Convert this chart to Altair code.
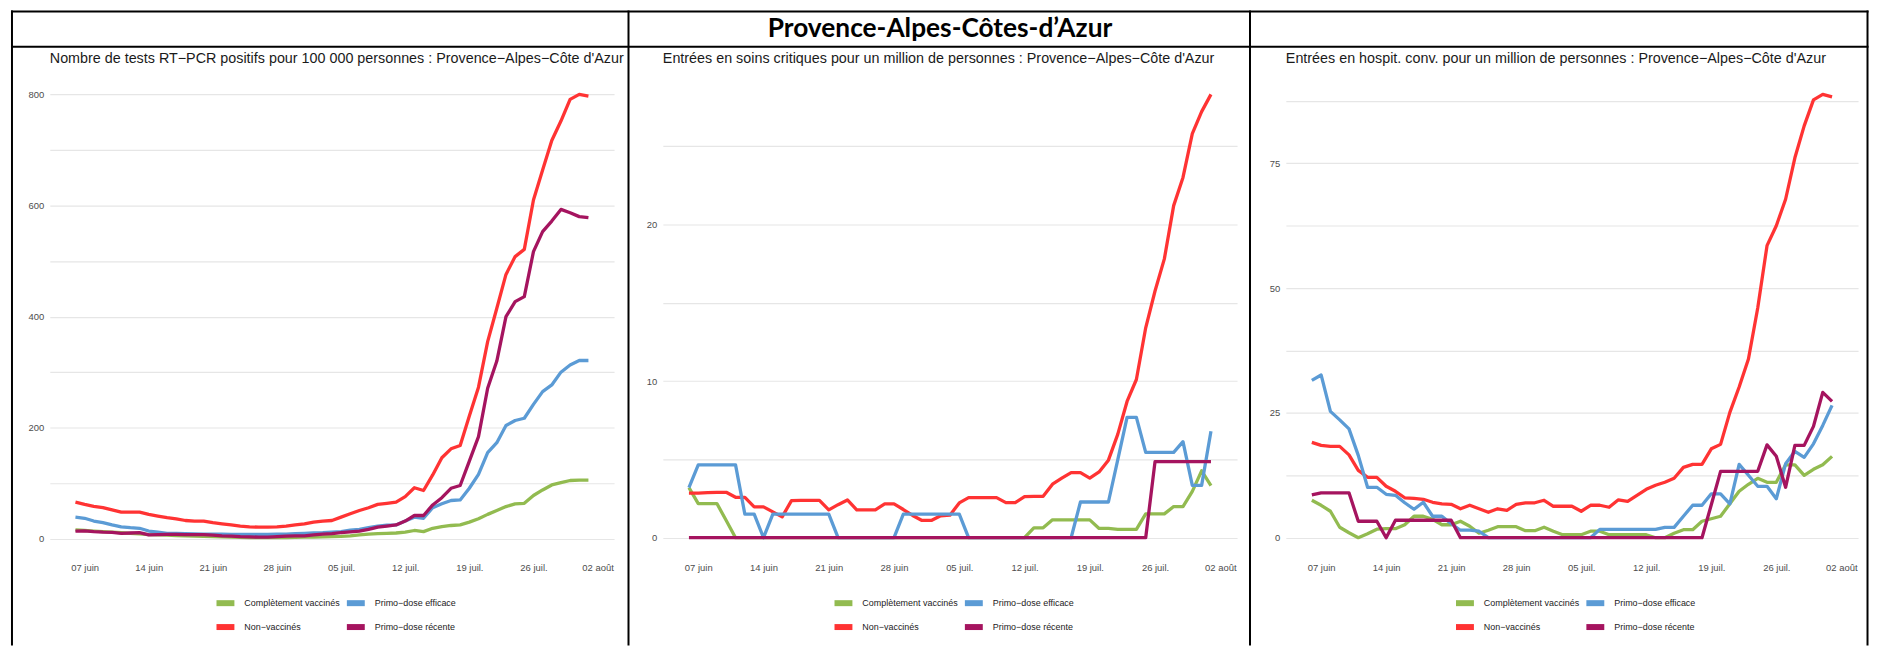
import json
import altair as alt
import pandas as pd

# ---------------- data ----------------
days = list(range(57))  # 06 juin .. 01 août
tick_days = [1, 8, 15, 22, 29, 36, 43, 50, 57]
tick_labels = ["07 juin", "14 juin", "21 juin", "28 juin", "05 juil.",
               "12 juil.", "19 juil.", "26 juil.", "02 août"]

main_title = "Provence-Alpes-Côtes-d’Azur"
panel_titles = [
    "Nombre de tests RT−PCR positifs pour 100 000 personnes : Provence−Alpes−Côte d'Azur",
    "Entrées en soins critiques pour un million de personnes : Provence−Alpes−Côte d'Azur",
    "Entrées en hospit. conv. pour un million de personnes : Provence−Alpes−Côte d'Azur",
]

# drawing order (last on top)
series_names = ["Complètement vaccinés", "Non−vaccinés", "Primo−dose efficace", "Primo−dose récente"]
# legend order (filled row by row)
legend_order = ["Complètement vaccinés", "Primo−dose efficace", "Non−vaccinés", "Primo−dose récente"]
legend_colors = ["#92BB50", "#5B9BD5", "#FF3333", "#A5145F"]

# Panel 1 : tests positifs / 100 000
tests_comp = [16, 15, 14, 13, 12, 11, 10, 9, 7.5, 7, 6.5, 6, 5.5, 5, 4.5, 4, 3.5, 3, 2.5, 2,
              2, 2, 2, 2.3, 2.6, 3, 3.3, 3.6, 4, 4.5, 5.5, 7, 8.5, 9.5, 10, 10.5, 12, 15, 13, 19,
              22, 24, 25, 30, 36, 44, 51, 58, 63, 64, 78, 88, 97, 101, 105, 105.5, 105.5]
tests_non = [66, 62, 58.5, 56, 52, 48, 48, 48, 44, 41, 38, 36, 33, 32, 32, 29, 27, 25, 23, 21.5,
             21, 21, 21.5, 23, 25, 27, 30, 32, 33, 39, 45, 51, 56, 62, 64, 66, 76, 92, 87, 115,
             146, 162, 168, 221, 273, 355, 415, 476, 508, 521, 610, 664, 717, 752, 791, 800, 797]
tests_eff = [39, 37, 32, 29, 25, 21.5, 20, 19, 14, 12, 10, 10, 9.5, 9, 8.5, 8.5, 8.5, 8, 8, 8,
             8, 8, 8.5, 8.5, 9.5, 10, 10.5, 11, 12, 13, 15.5, 17, 20, 23, 24.5, 25, 32, 39, 37, 56,
             63, 69, 70, 91, 116, 155, 173, 204, 213, 217, 242, 265, 277, 300, 313, 321, 321]
tests_rec = [14, 14.5, 13, 12, 11.5, 10, 10.5, 11, 7, 7.5, 8, 8, 7.5, 7.5, 7.5, 6.5, 5.5, 5, 4, 3.5,
             3, 3, 4, 5, 5.5, 5.5, 7, 8.5, 9.5, 11, 12.5, 14, 17, 21, 23, 25, 32, 42, 42, 61,
             74, 91, 96, 140, 184, 271, 320, 400, 427, 436, 517, 553, 572, 593, 587, 580, 578]

# Panel 2 : soins critiques / million
sc_comp = [3.2, 2.18, 2.18, 2.18, 1.1, 0, 0, 0, 0, 0, 0, 0, 0, 0, 0, 0, 0, 0, 0, 0,
           0, 0, 0, 0, 0, 0, 0, 0, 0, 0, 0, 0, 0, 0, 0, 0, 0, 0.63, 0.63, 1.14,
           1.14, 1.14, 1.14, 1.14, 0.59, 0.59, 0.53, 0.53, 0.53, 1.52, 1.52, 1.52, 1.99, 1.99, 2.96, 4.27, 3.32]
sc_non = [2.85, 2.85, 2.88, 2.9, 2.9, 2.58, 2.58, 1.97, 1.97, 1.65, 1.33, 2.37, 2.39, 2.39, 2.39, 1.78,
          2.11, 2.41, 1.78, 1.78, 1.78, 2.16, 2.16, 1.8, 1.42, 1.1, 1.1, 1.4, 1.44, 2.22, 2.56, 2.56,
          2.56, 2.56, 2.24, 2.24, 2.62, 2.64, 2.64, 3.42, 3.8, 4.16, 4.16, 3.8, 4.2, 4.95, 6.6, 8.7,
          10.1, 13.4, 15.75, 17.8, 21.2, 23.0, 25.8, 27.2, 28.3]
sc_eff = [3.2, 4.65, 4.65, 4.65, 4.65, 4.65, 1.5, 1.5, 0, 1.5, 1.5, 1.5, 1.5, 1.5, 1.5, 1.5,
          0, 0, 0, 0, 0, 0, 0, 1.5, 1.5, 1.5, 1.5, 1.5, 1.5, 1.5, 0, 0, 0, 0, 0, 0, 0, 0, 0, 0,
          0, 0, 2.28, 2.28, 2.28, 2.28, 4.97, 7.68, 7.68, 5.45, 5.45, 5.45, 5.45, 6.13, 3.34, 3.34, 6.8]
sc_rec = [0] * 50 + [4.86] * 7

# Panel 3 : hospit. conv. / million
hc_comp = [7.5, 6.5, 5.3, 2.1, 1, 0, 0.8, 1.7, 1.8, 1.8, 2.6, 4.3, 4.3, 3.7, 2.6, 2.6, 3.3, 2.3, 0.9,
           1.5, 2.2, 2.2, 2.2, 1.4, 1.4, 2.1, 1.3, 0.6, 0.6, 0.6, 1.3, 1.3, 0.6, 0.6, 0.6, 0.6, 0.6,
           0, 0, 0.9, 1.6, 1.6, 3.3, 3.8, 4.3, 6.8, 9.3, 10.7, 11.9, 11.1, 11.1, 14.6, 14.6, 12.5,
           13.7, 14.6, 16.3]
hc_non = [19.1, 18.5, 18.3, 18.3, 16.6, 13.5, 12.1, 12.1, 10.3, 9.3, 8, 7.9, 7.7, 7.1, 6.8, 6.7,
          5.8, 6.5, 5.8, 5.1, 5.8, 5.5, 6.7, 7, 7, 7.5, 6.3, 6.3, 6.3, 5.3, 6.5, 6.5, 6.1, 7.6,
          7.3, 8.5, 9.7, 10.5, 11.1, 11.9, 14.1, 14.7, 14.7, 17.8, 18.7, 25.1, 30.2, 35.8, 46,
          58.5, 62.5, 67.8, 76.1, 82.5, 87.7, 88.8, 88.3]
hc_eff = [31.5, 32.6, 25.3, 23.6, 21.8, 16.5, 10.1, 10.1, 8.7, 8.5, 7, 5.7, 7.1, 4.3, 4.3, 2.8,
          1.5, 1.5, 1.3, 0, 0, 0, 0, 0, 0, 0, 0, 0, 0, 0, 0, 1.67, 1.67, 1.67, 1.67, 1.67, 1.67,
          1.67, 2.07, 2.07, 4.3, 6.5, 6.5, 8.8, 8.8, 6.8, 14.7, 12.5, 10.3, 10.3, 7.8, 14.8, 17.3,
          16.1, 18.8, 22.5, 26.5]
hc_rec = [8.6, 9, 9, 9, 9, 3.3, 3.3, 3.3, 0, 3.5, 3.5, 3.5, 3.5, 3.5, 3.5, 3.5] + [0] * 27 + \
         [6.6, 13.3, 13.3, 13.3, 13.3, 13.3, 18.6, 16.3, 10.1, 18.5, 18.5, 22.3, 29.1, 27.3]

panels_data = [
    [tests_comp, tests_non, tests_eff, tests_rec],
    [sc_comp, sc_non, sc_eff, sc_rec],
    [hc_comp, hc_non, hc_eff, hc_rec],
]
grid_steps = [100, 5, 12.5]
label_steps = [200, 10, 25]

# ---------------- layout ----------------
widths = [567, 577, 575]
height = 490
spacing = 49
legend_xs = [164.5, 169.5, 168]
legend_y = 521.5

FONT = "Liberation Sans"
one = pd.DataFrame({"k": [0]})

x_label_expr = json.dumps(tick_labels, ensure_ascii=False) + "[round((datum.value - 1) / 7)]"


def rule(x1, x2, y1, y2):
    return alt.Chart(one).mark_rule(color="#000000", strokeWidth=2).encode(
        x=alt.value(x1), x2=alt.value(x2), y=alt.value(y1), y2=alt.value(y2))


def panel(k):
    vals = panels_data[k]
    rows = []
    for name, series in zip(series_names, vals):
        for d, v in zip(days, series):
            rows.append({"jour": d, "valeur": v, "statut": name})
    df = pd.DataFrame(rows)
    allv = [v for s in vals for v in s]
    lo, hi = min(allv), max(allv)
    ypad = 0.05 * (hi - lo)
    xpad = 0.05 * (days[-1] - days[0])
    gstep = grid_steps[k]
    grid_vals = [i * gstep for i in range(int(hi // gstep) + 1)]
    lstep = label_steps[k]

    lines = alt.Chart(df).mark_line(strokeWidth=3.3, strokeJoin="round").encode(
        x=alt.X("jour:Q",
                scale=alt.Scale(domain=[days[0] - xpad, days[-1] + xpad], nice=False, zero=False),
                axis=alt.Axis(values=tick_days, labelExpr=x_label_expr, title=None, grid=False,
                              ticks=False, domain=False, labelFont=FONT, labelFontSize=9.5,
                              labelColor="#4D4D4D", labelPadding=3, labelFlush=False,
                              labelOverlap=False, labelBound=False)),
        y=alt.Y("valeur:Q",
                scale=alt.Scale(domain=[lo - ypad, hi + ypad], nice=False, zero=False),
                axis=alt.Axis(values=grid_vals,
                              labelExpr=f"datum.value % {lstep} == 0 ? format(datum.value, 'd') : ''",
                              title=None, ticks=False, domain=False, gridColor="#E6E6E6",
                              gridWidth=1.2, labelFont=FONT, labelFontSize=9.5,
                              labelColor="#4D4D4D", labelPadding=6)),
        color=alt.Color("statut:N",
                        scale=alt.Scale(domain=legend_order, range=legend_colors),
                        legend=alt.Legend(orient="none", legendX=legend_xs[k], legendY=legend_y,
                                          direction="horizontal", columns=2, title=None,
                                          symbolType="stroke", symbolSize=324,
                                          symbolStrokeWidth=6, labelFont=FONT,
                                          labelFontSize=9, labelColor="#222222",
                                          labelOffset=7, columnPadding=-6, rowPadding=-2,
                                          labelLimit=0)),
    )

    sub = alt.Chart(pd.DataFrame({"t": [panel_titles[k]]})).mark_text(
        align="left", baseline="middle", font=FONT, fontSize=14.4, color="#1A1A1A"
    ).encode(x=alt.value(0), y=alt.value(-13.5), text="t:N")

    layers = [lines, sub]
    if k == 0:
        title = alt.Chart(pd.DataFrame({"t": [main_title]})).mark_text(
            align="center", baseline="middle", font="Lato", fontWeight="bold",
            fontSize=26.4, color="#000000"
        ).encode(x=alt.value(894.5), y=alt.value(-43), text="t:N")
        layers.append(title)
        # frame (panel-1 local pixel coordinates)
        for xv in [-38, 581.5, 1206, 1826.5]:
            layers.append(rule(xv, xv, -62, 576))
        for yv in [-61, -25.5]:
            layers.append(rule(-39, 1827.5, yv, yv))
    return alt.layer(*layers).properties(width=widths[k], height=height)


chart = alt.hconcat(panel(0), panel(1), panel(2), spacing=spacing, bounds="flush").resolve_legend(
    color="independent"
).properties(
    padding={"left": 2, "top": 0, "right": 0, "bottom": 0}
).configure_view(stroke=None)

chart.save("out.html", embed_options={"renderer": "svg", "actions": False})
